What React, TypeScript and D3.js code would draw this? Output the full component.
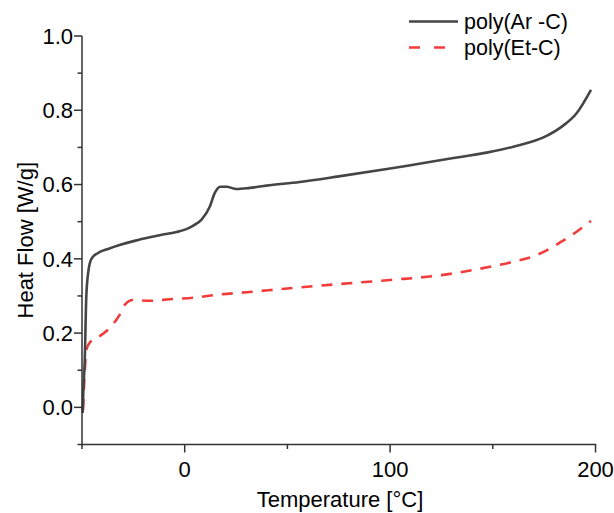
import React from "react";
import * as d3 from "d3";

const xMajorTicks = [0, 100, 200];
const xMinorTicks = [-50, 50, 150];
const yMajorTicks = [0.0, 0.2, 0.4, 0.6, 0.8, 1.0];
const yMinorTicks = [-0.1, 0.1, 0.3, 0.5, 0.7, 0.9];

const seriesNames = ["poly(Ar -C)", "poly(Et-C)"];

const arT = [-49.7, -49.3, -48.7, -47.9, -46.8, -45.4, -42.4, -37, -31.7, -24, -17, -10, -4, 0.8, 4, 8.1, 12.2, 14.6, 17.4, 20.3, 25.2, 31.7, 39.8, 56, 75, 100, 112, 125, 135, 147, 160, 176.2, 184.1, 190.8, 197.8];
const arV = [-0.015, 0.05, 0.12, 0.3, 0.37, 0.4, 0.415, 0.427, 0.437, 0.449, 0.458, 0.466, 0.472, 0.48, 0.489, 0.505, 0.54, 0.577, 0.594, 0.594, 0.588, 0.591, 0.597, 0.607, 0.622, 0.643, 0.654, 0.666, 0.675, 0.686, 0.702, 0.731, 0.758, 0.792, 0.855];

const etT = [-49.5, -48.7, -47.9, -45.4, -41.4, -36.5, -31.7, -29.2, -25.2, -17, -7.3, 5.7, 15.4, 30, 50, 75, 100, 125, 145.3, 159.9, 171.3, 182.7, 190.8, 197.8];
const etV = [-0.007, 0.093, 0.155, 0.18, 0.192, 0.214, 0.249, 0.276, 0.289, 0.287, 0.291, 0.296, 0.303, 0.31, 0.32, 0.332, 0.343, 0.356, 0.375, 0.392, 0.41, 0.444, 0.473, 0.502];

const FONT = "Arial, 'Liberation Sans', sans-serif";
const AXIS = "#333333";
const C1 = "#454545";
const C2 = "#f23b3b";
const FS = 22;

export default function App() {
  const x = d3.scaleLinear().domain([-50, 200]).range([82, 595.5]);
  const y = d3.scaleLinear().domain([-0.1, 1.0]).range([444.5, 36]);

  const line = d3
    .line<[number, number]>()
    .x((d) => x(d[0]))
    .y((d) => y(d[1]))
    .curve(d3.curveMonotoneX);

  const arData = arT.map((t, i) => [t, arV[i]] as [number, number]);
  const etData = etT.map((t, i) => [t, etV[i]] as [number, number]);

  const x0 = x(-50);
  const y0 = y(-0.1);

  return (
    <svg
      width={614}
      height={513}
      style={{ position: "absolute", left: 0, top: 0, background: "#fff" }}
      fontFamily={FONT}
    >
      <rect width={614} height={513} fill="#fff" />
      {/* curves */}
      <path d={line(etData) || ""} fill="none" stroke={C2} strokeWidth={2.6} strokeDasharray="11,9" />
      <path d={line(arData) || ""} fill="none" stroke={C1} strokeWidth={2.6} />

      {/* axes */}
      <line x1={x0} x2={x0} y1={y(1.0)} y2={y0 + 0.75} stroke={AXIS} strokeWidth={1.5} />
      <line x1={x0 - 0.75} x2={x(200) + 0.75} y1={y0} y2={y0} stroke={AXIS} strokeWidth={1.5} />

      {yMajorTicks.map((v) => (
        <g key={"ym" + v}>
          <line x1={x0 - 8} x2={x0} y1={y(v)} y2={y(v)} stroke={AXIS} strokeWidth={1.5} />
          <text x={x0 - 9} y={y(v)} dy="0.36em" textAnchor="end" fontSize={FS} fill="#000">
            {v.toFixed(1)}
          </text>
        </g>
      ))}
      {yMinorTicks.map((v) => (
        <line key={"yn" + v} x1={x0 - 4.5} x2={x0} y1={y(v)} y2={y(v)} stroke={AXIS} strokeWidth={1.5} />
      ))}
      {xMajorTicks.map((v) => (
        <g key={"xm" + v}>
          <line x1={x(v)} x2={x(v)} y1={y0} y2={y0 + 8} stroke={AXIS} strokeWidth={1.5} />
          <text x={x(v)} y={476.5} textAnchor="middle" fontSize={FS} fill="#000">
            {v}
          </text>
        </g>
      ))}
      {xMinorTicks.map((v) => (
        <line key={"xn" + v} x1={x(v)} x2={x(v)} y1={y0} y2={y0 + 4.5} stroke={AXIS} strokeWidth={1.5} />
      ))}

      {/* axis titles */}
      <text x={340} y={507} textAnchor="middle" fontSize={FS} fill="#000">
        Temperature [°C]
      </text>
      <text
        transform={`translate(33, ${y(0.45)}) rotate(-90)`}
        textAnchor="middle"
        fontSize={FS}
        fill="#000"
      >
        Heat Flow [W/g]
      </text>

      {/* legend */}
      <line x1={409} x2={458} y1={21.5} y2={21.5} stroke={C1} strokeWidth={2.6} />
      <text x={464} y={28.5} fontSize={21.5} fill="#000">{seriesNames[0]}</text>
      <line x1={409} x2={458} y1={47.5} y2={47.5} stroke={C2} strokeWidth={2.6} strokeDasharray="11,14" />
      <text x={464} y={54.5} fontSize={21.5} fill="#000">{seriesNames[1]}</text>
    </svg>
  );
}
